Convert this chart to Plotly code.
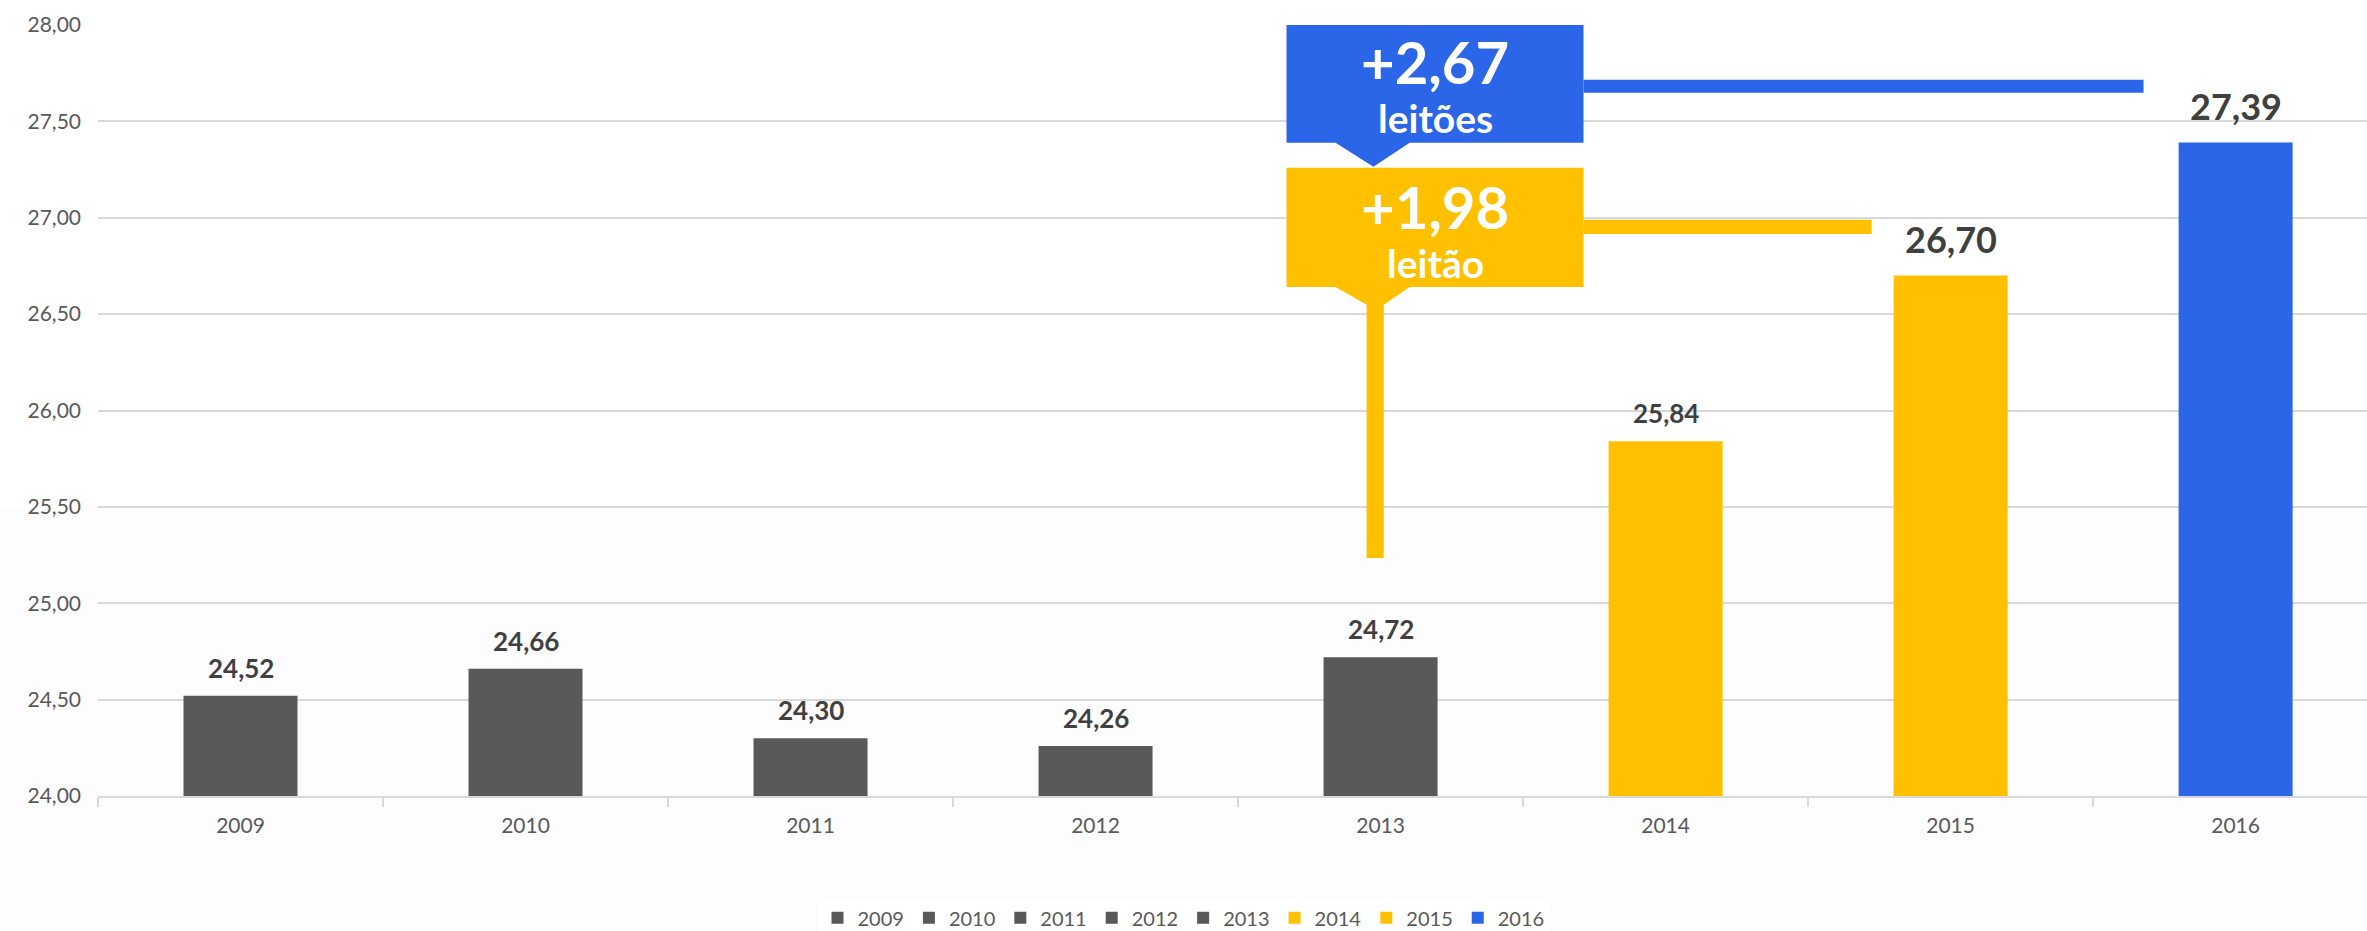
import plotly.graph_objects as go

# ---- data ----
years = ["2009", "2010", "2011", "2012", "2013", "2014", "2015", "2016"]
values = [24.52, 24.66, 24.30, 24.26, 24.72, 25.84, 26.70, 27.39]
bar_colors = ["#595959", "#595959", "#595959", "#595959", "#595959",
              "#FFC000", "#FFC000", "#2B65E8"]
label_sizes = [26, 26, 26, 26, 26, 26, 36, 36]
label_shift = [28, 28, 28, 28, 28, 28, 37, 37]
y_ticks = [24.0, 24.5, 25.0, 25.5, 26.0, 26.5, 27.0, 27.5, 28.0]

BLUE = "#2B65E8"
YELLOW = "#FFC000"
FONT = "Lato"


def fmt(v):
    return f"{v:.2f}".replace(".", ",")


gain_blue = values[7] - values[4]
gain_yellow = values[6] - values[4]

fig = go.Figure()
for yr, v, c in zip(years, values, bar_colors):
    fig.add_trace(go.Bar(x=[yr], y=[v], name=yr, marker=dict(color=c, line=dict(width=0)),
                         width=0.4, hoverinfo="x+y"))

# data labels
for i, v in enumerate(values):
    fig.add_annotation(x=i, y=v, xref="x", yref="y", text=f"<b>{fmt(v)}</b>",
                       showarrow=False, yanchor="middle", yshift=label_shift[i],
                       font=dict(family=FONT, size=label_sizes[i], color="#404040"))

# faint tinted lower background
fig.add_shape(type="rect", xref="paper", yref="paper", x0=-0.05, x1=1.02,
              y0=-0.2, y1=0.375, fillcolor="#FDFCFE", line=dict(width=0), layer="below")

# callout geometry (x in category index units, y in value units)
bx0, bx1 = 3.670, 4.712
px0, pxa, px1 = 3.842, 3.975, 4.102
blue_top, blue_bot, blue_apex = 28.011, 27.389, 27.264
yel_top, yel_bot, yel_join = 27.259, 26.641, 26.548
stem_x0, stem_x1, stem_bot = 3.951, 4.011, 25.235

blue_path = (f"M {bx0},{blue_top} L {bx1},{blue_top} L {bx1},{blue_bot} "
             f"L {px1},{blue_bot} L {pxa},{blue_apex} L {px0},{blue_bot} L {bx0},{blue_bot} Z")
fig.add_shape(type="path", xref="x", yref="y", path=blue_path,
              fillcolor=BLUE, line=dict(width=0), layer="above")
fig.add_shape(type="rect", xref="x", yref="y", x0=bx1, x1=6.677, y0=27.648, y1=27.716,
              fillcolor=BLUE, line=dict(width=0), layer="above")

yel_path = (f"M {bx0},{yel_top} L {bx1},{yel_top} L {bx1},{yel_bot} L {px1},{yel_bot} "
            f"L {stem_x1},{yel_join} L {stem_x1},{stem_bot} L {stem_x0},{stem_bot} "
            f"L {stem_x0},{yel_join} L {px0},{yel_bot} L {bx0},{yel_bot} Z")
fig.add_shape(type="path", xref="x", yref="y", path=yel_path,
              fillcolor=YELLOW, line=dict(width=0), layer="above")
fig.add_shape(type="rect", xref="x", yref="y", x0=bx1, x1=5.723, y0=26.916, y1=26.989,
              fillcolor=YELLOW, line=dict(width=0), layer="above")

cx = (bx0 + bx1) / 2
fig.add_annotation(x=cx, y=27.809, text=f"<b>+{fmt(gain_blue)}</b>", showarrow=False,
                   font=dict(family=FONT, size=58, color="white"))
fig.add_annotation(x=cx, y=27.518, text="<b>leitões</b>", showarrow=False,
                   font=dict(family=FONT, size=39, color="white"))
fig.add_annotation(x=cx, y=27.057, text=f"<b>+{fmt(gain_yellow)}</b>", showarrow=False,
                   font=dict(family=FONT, size=58, color="white"))
fig.add_annotation(x=cx, y=26.766, text="<b>leitão</b>", showarrow=False,
                   font=dict(family=FONT, size=39, color="white"))

fig.update_layout(
    width=2367, height=931,
    margin=dict(l=98, r=0, t=25, b=135, autoexpand=False),
    paper_bgcolor="white", plot_bgcolor="rgba(0,0,0,0)",
    separators=",.",
    barmode="overlay",
    font=dict(family=FONT, color="#595959"),
    showlegend=True,
    legend=dict(orientation="h", xref="container", yref="paper",
                x=0.5, xanchor="center", y=-0.158, yanchor="middle",
                font=dict(family=FONT, size=20, color="#595959"),
                itemclick=False, traceorder="normal"),
    xaxis=dict(type="category", categoryorder="array", categoryarray=years,
               range=[-0.5, 7.461], showgrid=False,
               showline=True, linecolor="#D9D9D9", linewidth=1.5,
               ticks="outside", tickson="boundaries", ticklen=9, tickcolor="#D9D9D9",
               tickwidth=1.5, tickfont=dict(family=FONT, size=21, color="#595959"),
               ticklabelstandoff=10, fixedrange=True),
    yaxis=dict(range=[24, 28], tickvals=y_ticks, tickformat=".2f",
               showgrid=True, gridcolor="#D9D9D9", gridwidth=1.5,
               zeroline=False, showline=False, ticks="",
               ticklabelstandoff=16,
               tickfont=dict(family=FONT, size=21, color="#595959"), fixedrange=True),
)

fig.write_html("out.html", config={"displayModeBar": False},
               post_script="document.body.style.margin='0';")
